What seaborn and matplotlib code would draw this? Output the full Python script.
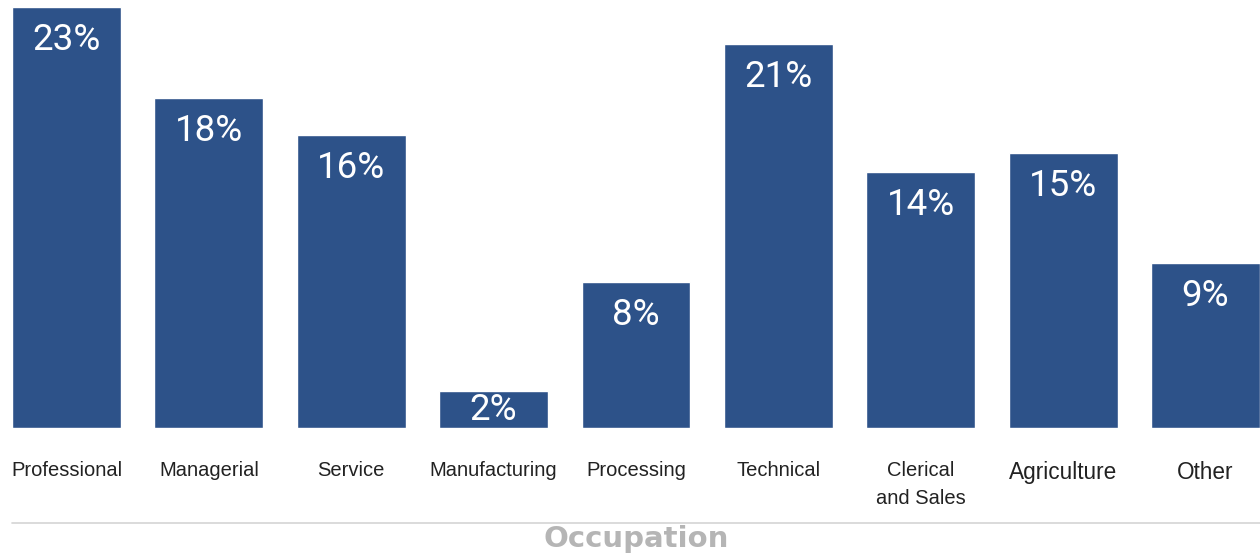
import pandas as pd
import matplotlib.pyplot as plt
import seaborn as sns
from matplotlib.lines import Line2D

occupations = ['Professional', 'Managerial', 'Service', 'Manufacturing', 'Processing',
               'Technical', 'Clerical\nand Sales', 'Agriculture', 'Other']
shares = [23, 18, 16, 2, 8, 21, 14, 15, 9]

df = pd.DataFrame({'Occupation': occupations, 'Share': shares})

sns.set_style('white')
plt.rcParams['font.family'] = ['Liberation Sans', 'DejaVu Sans']

fig = plt.figure(figsize=(12.6, 5.54), dpi=100)
ax = fig.add_axes([0, 126 / 554, 1, 428 / 554])

sns.barplot(data=df, x='Occupation', y='Share', color='#2D5289', saturation=1,
            width=0.765, ax=ax)

ax.set_xlim(-0.467, 8.383)
ax.set_ylim(0, 23.38)
ax.set_yticks([])
ax.set_xlabel('')
ax.set_ylabel('')
for s in ax.spines.values():
    s.set_visible(False)

# value labels inside the bars
for i, v in enumerate(shares):
    y = max(v - 1.8, v / 2)
    ax.text(i, y, f'{v}%', ha='center', va='center', color='white',
            fontsize=26.5, family=['Roboto', 'DejaVu Sans'])

ax.tick_params(axis='x', length=0, pad=24)
ax.set_xticks(range(len(occupations)))
ax.set_xticklabels(occupations, fontsize=14.5, color='#222222', linespacing=1.55)
for lab in ax.get_xticklabels():
    if lab.get_text() in ('Agriculture', 'Other'):
        lab.set_fontsize(16.3)

fig.add_artist(Line2D([12 / 1260, 1], [1 - 523 / 554] * 2, color='#d4d4d4', lw=1.2))
fig.text(636 / 1260, 1 - 539 / 554, 'Occupation', ha='center', va='center',
         fontsize=21, fontweight='bold', color='#b5b5b5', family='DejaVu Sans')

fig.savefig('out.png', dpi=100)
